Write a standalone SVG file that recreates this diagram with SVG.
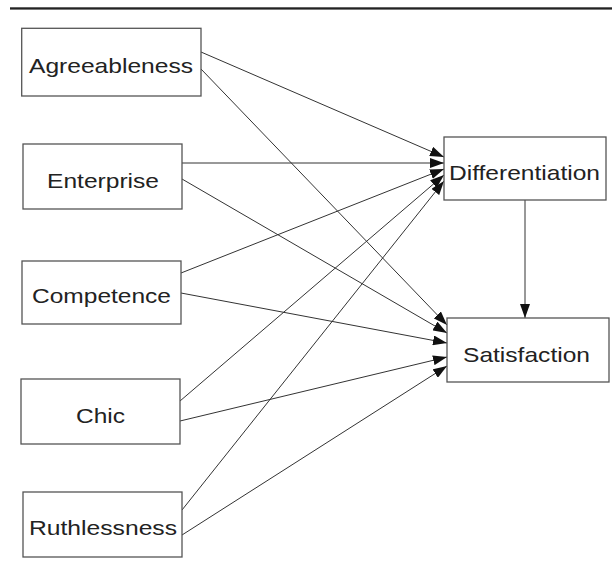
<svg xmlns="http://www.w3.org/2000/svg" width="612" height="580" viewBox="0 0 612 580">
<style>
.box{fill:#fff;stroke:#555;stroke-width:1.3}
.lbl{font-family:"Liberation Sans",Arial,sans-serif;font-size:21px;fill:#222;text-anchor:middle}
.edge{stroke:#333;stroke-width:1;fill:none;marker-end:url(#ah)}
</style>
<defs>
<marker id="ah" viewBox="0 0 14 10" refX="14" refY="5" markerWidth="14" markerHeight="10" markerUnits="userSpaceOnUse" orient="auto">
<path d="M0,0 L14,5 L0,10 z" fill="#111"/>
</marker>
</defs>
<rect x="10" y="7.3" width="602" height="2.3" fill="#222"/>
<g id="connectors">
<line class="edge" x1="201" y1="52" x2="444" y2="157"/>
<line class="edge" x1="201" y1="69" x2="447" y2="325"/>
<line class="edge" x1="182" y1="163" x2="444" y2="163"/>
<line class="edge" x1="182" y1="179" x2="447" y2="333"/>
<line class="edge" x1="181" y1="273" x2="444" y2="169"/>
<line class="edge" x1="181" y1="293" x2="447" y2="343"/>
<line class="edge" x1="180" y1="401" x2="444" y2="175"/>
<line class="edge" x1="180" y1="421" x2="447" y2="357"/>
<line class="edge" x1="182" y1="510" x2="444" y2="181"/>
<line class="edge" x1="182" y1="535" x2="447" y2="366"/>
<line class="edge" x1="525" y1="200" x2="525" y2="318"/>
</g>
<g id="agreeableness">
<rect class="box" x="21.7" y="28.3" width="179.3" height="67.7"/>
<text class="lbl" x="111" y="73" textLength="164" lengthAdjust="spacingAndGlyphs">Agreeableness</text>
</g>
<g id="enterprise">
<rect class="box" x="23" y="144" width="159" height="65"/>
<text class="lbl" x="103" y="188" textLength="112" lengthAdjust="spacingAndGlyphs">Enterprise</text>
</g>
<g id="competence">
<rect class="box" x="22" y="261" width="159" height="63"/>
<text class="lbl" x="101.5" y="303" textLength="139" lengthAdjust="spacingAndGlyphs">Competence</text>
</g>
<g id="chic">
<rect class="box" x="21" y="379" width="159" height="65"/>
<text class="lbl" x="100.5" y="423" textLength="49" lengthAdjust="spacingAndGlyphs">Chic</text>
</g>
<g id="ruthlessness">
<rect class="box" x="23" y="492" width="159" height="65"/>
<text class="lbl" x="103" y="535" textLength="148" lengthAdjust="spacingAndGlyphs">Ruthlessness</text>
</g>
<g id="differentiation">
<rect class="box" x="444" y="137" width="162" height="63"/>
<text class="lbl" x="524.5" y="180" textLength="151" lengthAdjust="spacingAndGlyphs">Differentiation</text>
</g>
<g id="satisfaction">
<rect class="box" x="447" y="318" width="162" height="64"/>
<text class="lbl" x="526.5" y="362" textLength="127" lengthAdjust="spacingAndGlyphs">Satisfaction</text>
</g>
</svg>
